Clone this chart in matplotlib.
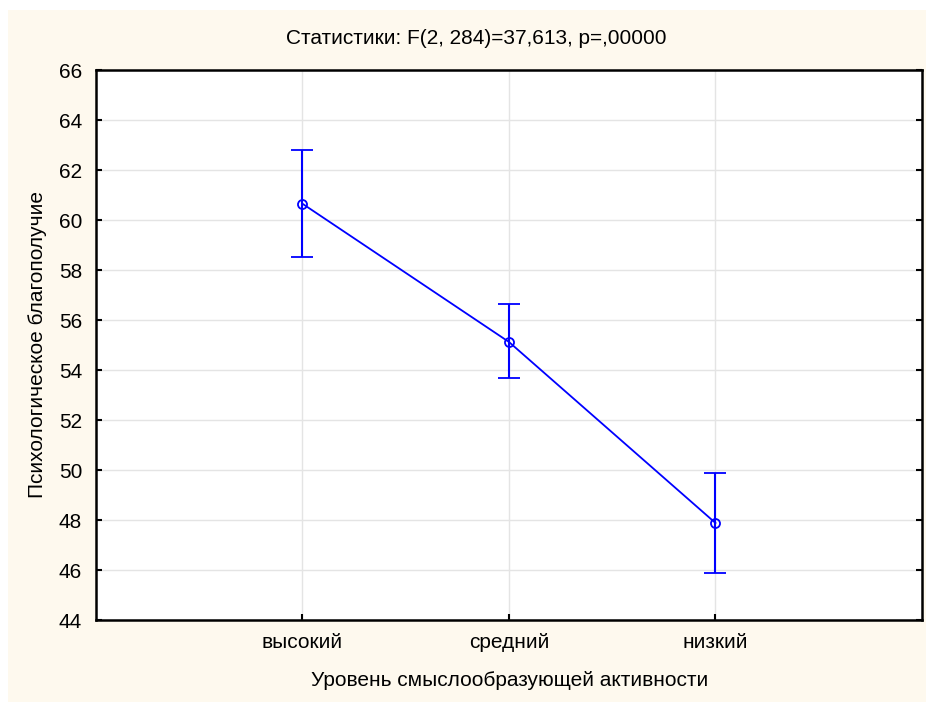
import matplotlib
matplotlib.use('Agg')
import matplotlib.pyplot as plt
from matplotlib.patches import Rectangle

plt.rcParams['font.family'] = ['Liberation Sans', 'DejaVu Sans']

CATEGORIES = ['высокий', 'средний', 'низкий']
MEANS      = [60.65, 55.12, 47.88]
UPPER      = [62.80, 56.63, 49.88]
LOWER      = [58.51, 53.67, 45.88]
Y_TICKS    = [44, 46, 48, 50, 52, 54, 56, 58, 60, 62, 64, 66]

TITLE  = 'Статистики: F(2, 284)=37,613, p=,00000'
XLABEL = 'Уровень смыслообразующей активности'
YLABEL = 'Психологическое благополучие'

BG_COLOR   = '#fef9ee'
LINE_COLOR = '#0000ff'
GRID_COLOR = '#e4e4e4'
FS = 15

W, H = 928, 702
fig = plt.figure(figsize=(W / 100, H / 100), dpi=100, facecolor='white')

# cream panel behind everything
fig.patches.append(Rectangle((8 / W, 0), (926 - 8) / W, 1 - 10 / H,
                             transform=fig.transFigure, facecolor=BG_COLOR,
                             edgecolor='none', zorder=-10))

left, right, top, bottom = 96, 922, 70, 620
ax = fig.add_axes([left / W, 1 - bottom / H, (right - left) / W, (bottom - top) / H])
ax.set_facecolor('white')

x = list(range(1, len(CATEGORIES) + 1))
err_lo = [m - l for m, l in zip(MEANS, LOWER)]
err_hi = [u - m for m, u in zip(MEANS, UPPER)]

ax.errorbar(x, MEANS, yerr=[err_lo, err_hi], color=LINE_COLOR, linewidth=1.3,
            elinewidth=1.5, capsize=8, capthick=1.5, marker='o', markersize=6.5,
            markerfacecolor='none', markeredgecolor=LINE_COLOR,
            markeredgewidth=1.3, zorder=5)

ax.set_xlim(0, 4)
ax.set_ylim(44, 66)
ax.set_xticks(x)
ax.set_xticklabels(CATEGORIES)
ax.set_yticks(Y_TICKS)

ax.grid(True, color=GRID_COLOR, linewidth=1, zorder=0)
ax.set_axisbelow(True)

for sp in ax.spines.values():
    sp.set_linewidth(1.8)
    sp.set_color('black')

ax.tick_params(axis='both', direction='in', length=4, width=1.5, labelsize=FS,
               pad=10, right=True)
ax.tick_params(axis='x', pad=9)

fig.text(510 / W, 1 - 680 / H, XLABEL, ha='center', va='center', fontsize=FS)
fig.text(38 / W, 1 - 345 / H, YLABEL, ha='center', va='center', fontsize=FS,
         rotation=90)
fig.text(476 / W, 1 - 39 / H, TITLE, ha='center', va='center', fontsize=FS)

fig.savefig('out.png', dpi=100)
